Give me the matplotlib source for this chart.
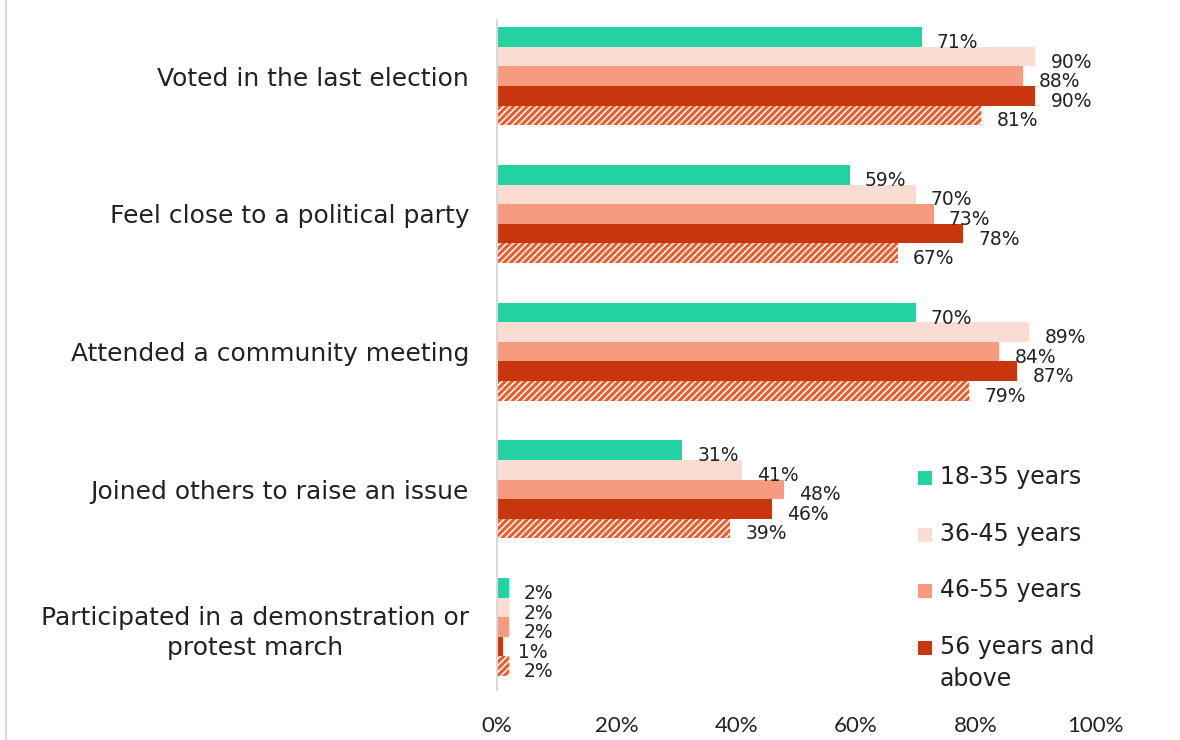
import numpy as np
import matplotlib
matplotlib.use("Agg")
import matplotlib.pyplot as plt
from matplotlib.lines import Line2D
from matplotlib.patches import Rectangle

plt.rcParams['font.family'] = ['DejaVu Sans']
plt.rcParams['hatch.linewidth'] = 2.2

categories = [
    "Voted in the last election",
    "Feel close to a political party",
    "Attended a community meeting",
    "Joined others to raise an issue",
    "Participated in a demonstration or\nprotest march",
]
series_names = ["18-35 years", "36-45 years", "46-55 years", "56 years and\nabove", "All"]
age_18_35 = [71, 59, 70, 31, 2]
age_36_45 = [90, 70, 89, 41, 2]
age_46_55 = [88, 73, 84, 48, 2]
age_56_up = [90, 78, 87, 46, 1]
overall = [81, 67, 79, 39, 2]
x_ticks = [0, 20, 40, 60, 80, 100]

series = [age_18_35, age_36_45, age_46_55, age_56_up, overall]
colors = ["#24D1A0", "#FADCD3", "#F69A80", "#C8360E", "white"]

fig = plt.figure(figsize=(11.8, 7.4), dpi=100)
ax = fig.add_axes([0.421, 0.0676, 0.507, 0.905])

y = np.arange(len(categories))
h = 0.142
for i, (vals, col) in enumerate(zip(series, colors)):
    pos = y - 2 * h + i * h
    if i == 4:
        ax.barh(pos, vals, height=h, color="white", edgecolor="#F05A28",
                hatch="/////", linewidth=0)
    else:
        ax.barh(pos, vals, height=h, color=col, linewidth=0)
    for p, v in zip(pos, vals):
        ax.annotate(f"{v}%", (v, p), xytext=(11, -4), textcoords="offset points",
                    ha="left", va="center", fontsize=13.5, color="#222222")

ax.set_xlim(0, 100)
ax.set_ylim(len(categories) - 1 + 0.457, -0.406)
ax.set_xticks(x_ticks)
ax.set_xticklabels([f"{t}%" for t in x_ticks], fontsize=16, color="#222222",
                   family=['Lato'])
ax.set_yticks(y)
ax.set_yticklabels(categories, fontsize=18, color="#222222",
                   multialignment="center", linespacing=1.35)
ax.tick_params(axis="x", length=0, pad=19)
ax.tick_params(axis="y", length=0, pad=20)
for s in ["top", "right", "bottom"]:
    ax.spines[s].set_visible(False)
ax.spines["left"].set_color("#D9D9D9")
ax.spines["left"].set_linewidth(1.5)

# legend (first four series only), marker aligned with first text line
leg_x = 918 / 1180
leg_y0 = 1 - 478 / 740
leg_step = 56.7 / 740
sq_w, sq_h = 14 / 1180, 14 / 740
for k in range(4):
    yc = leg_y0 - k * leg_step
    fig.add_artist(Rectangle((leg_x, yc - sq_h / 2), sq_w, sq_h,
                             facecolor=colors[k], edgecolor="none",
                             transform=fig.transFigure))
    fig.text(leg_x + 22 / 1180, yc + 13 / 740, series_names[k], fontsize=17,
             color="#222222", ha="left", va="top", linespacing=1.4)

# light frame line on the left edge
fig.add_artist(Line2D([0.005, 0.005], [0.0, 1.0], color="#D9D9D9", lw=1.5,
                      transform=fig.transFigure))

fig.savefig("out.png", dpi=100)
